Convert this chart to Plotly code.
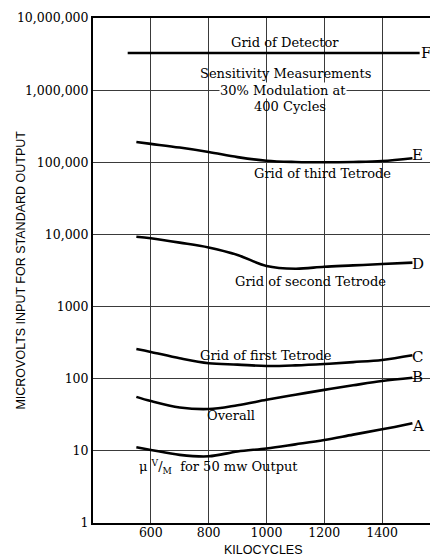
import plotly.graph_objects as go

# sensitivity curves, kilocycles vs microvolts
kc = [550, 600, 700, 800, 900, 1000, 1100, 1200, 1300, 1400, 1505]
uv_a = [11.2, 10.3, 8.8, 8.4, 9.8, 10.8, 12.3, 14.1, 16.8, 19.9, 24.2]
uv_b = [56, 49, 40, 38, 43, 51, 60, 70, 81, 93, 103]
uv_c = [258, 235, 192, 164, 157, 150, 153, 160, 170, 182, 211]
uv_d = [9300, 8840, 7700, 6600, 5200, 3650, 3350, 3570, 3720, 3890, 4060]
uv_e = [191000, 180000, 160000, 139000, 118000, 105000, 101000, 100000, 101000, 104000, 114000]
kc_f = [520, 1530]
uv_f = [3270000, 3270000]

y_ticks = [1, 10, 100, 1000, 10000, 100000, 1000000, 10000000]
y_labels = ["1", "10", "100", "1000", "10,000", "100,000", "1,000,000", "10,000,000"]
x_ticks = [600, 800, 1000, 1200, 1400]

serif = "DejaVu Serif"
sans = "Liberation Sans"

fig = go.Figure()

for xs, ys in [(kc, uv_a), (kc, uv_b), (kc, uv_c), (kc, uv_d), (kc, uv_e), (kc_f, uv_f)]:
    fig.add_trace(go.Scatter(
        x=xs, y=ys,
        mode='lines',
        line=dict(color='black', width=2.6, shape='spline', smoothing=1.0),
        showlegend=False,
        hoverinfo='skip',
    ))

# curve labels (x in kc, y in log10 units)
notes = [
    ("Grid of Detector", 1065, 6.654, None),
    ("Sensitivity Measurements", 1065, 6.224, None),
    ("30% Modulation at", 1058, 6.002, 'white'),
    ("400 Cycles", 1082, 5.767, None),
    ("Grid of third Tetrode", 1193, 4.838, None),
    ("Grid of second Tetrode", 1152, 3.341, None),
    ("Grid of first Tetrode", 997, 2.315, None),
    ("Overall", 879, 1.497, None),
    ("μ <sup>V</sup>/<sub>M</sub>  for 50 mw Output", 834, 0.776, None),
]
for text, x, y, bg in notes:
    fig.add_annotation(
        x=x, y=y, text=text, showarrow=False,
        font=dict(family=serif, size=13, color='black'),
        bgcolor=bg, borderpad=0,
    )

letters = [("F", 1552, 6.515), ("E", 1521, 5.101), ("D", 1524, 3.59),
           ("C", 1521, 2.301), ("B", 1521, 2.024), ("A", 1524, 1.345)]
for text, x, y in letters:
    fig.add_annotation(
        x=x, y=y, text=text, showarrow=False,
        font=dict(family=serif, size=15, color='black'),
    )

# axis titles as annotations so they sit where the original puts them
fig.add_annotation(
    xref='paper', yref='paper', x=-0.212, y=0.5, xanchor='center',
    text="MICROVOLTS INPUT FOR STANDARD OUTPUT", textangle=-90,
    showarrow=False, font=dict(family=sans, size=12.5, color='black'),
)
fig.add_annotation(
    xref='paper', yref='paper', x=0.495, y=-0.054, yanchor='middle',
    text="KILOCYCLES",
    showarrow=False, font=dict(family=sans, size=12.5, color='black'),
)

fig.update_xaxes(
    range=[400, 1590],
    tickvals=x_ticks,
    tickfont=dict(family=serif, size=12.5, color='black'),
    ticks='', ticklabelstandoff=-3,
    showgrid=True, gridcolor='#3a3a3a', gridwidth=1.2,
    showline=True, linecolor='black', linewidth=2, mirror=True,
    zeroline=False,
)
fig.update_yaxes(
    type='log',
    range=[0, 7],
    tickvals=y_ticks,
    ticktext=y_labels,
    tickfont=dict(family=serif, size=12.5, color='black'),
    ticks='',
    showgrid=True, gridcolor='#3a3a3a', gridwidth=1.2,
    showline=True, linecolor='black', linewidth=2,
    zeroline=False,
)

# page body keeps an 8px margin, so the figure is 8px smaller than the window
fig.update_layout(
    width=430, height=551,
    margin=dict(l=85, r=1, t=10, b=36, autoexpand=False),
    paper_bgcolor='white',
    plot_bgcolor='white',
    showlegend=False,
)

fig.write_html("out.html")
